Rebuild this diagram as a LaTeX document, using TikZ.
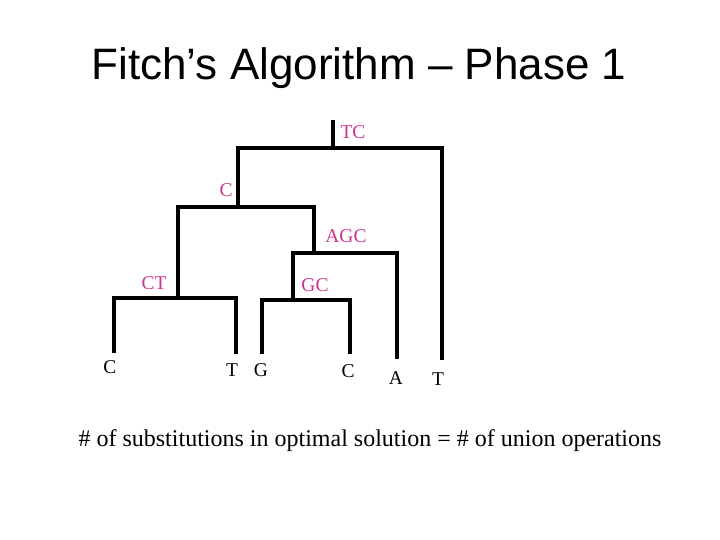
\documentclass[tikz,border=0pt]{standalone}
\usepackage{fontspec}
\setmainfont{Liberation Serif}
\newfontfamily\arial{Liberation Sans}
\definecolor{pinklab}{RGB}{204,51,140}
\begin{document}
\begin{tikzpicture}[x=1pt,y=-1pt,
  br/.style={line width=3.4pt,line cap=rect},
  lab/.style={text=pinklab,font=\fontsize{19.5}{19.5}\selectfont,inner sep=0pt},
  leaf/.style={font=\fontsize{19.5}{19.5}\selectfont,inner sep=0pt}]
\useasboundingbox (0,0) rectangle (720,540);
\node[font=\arial\fontsize{44}{44}\selectfont] (title) at (359,68) {Fitch’s Algorithm – Phase 1};
% internal points
\coordinate (r) at (333,122); \coordinate (r1) at (333,148);
\coordinate (ra) at (238,148); \coordinate (rb) at (442,148);
\coordinate (c1) at (238,207); \coordinate (ca) at (178,207); \coordinate (cb) at (314,207);
\coordinate (ct) at (178,298); \coordinate (cta) at (114,298); \coordinate (ctb) at (236,298);
\coordinate (ag) at (314,253); \coordinate (aga) at (293,253); \coordinate (agb) at (397,253);
\coordinate (gc) at (293,300); \coordinate (gca) at (262,300); \coordinate (gcb) at (350,300);
\coordinate (l1) at (114,351); \coordinate (l2) at (236,352); \coordinate (l3) at (262,352);
\coordinate (l4) at (350,352); \coordinate (l5) at (397,357); \coordinate (l6) at (442,358);
\draw[br] (r) -- (r1);
\draw[br] (c1) |- (ra) -- (rb) -- (l6);
\draw[br] (ct) |- (ca) -- (cb) -- (ag);
\draw[br] (l1) |- (cta) -- (ctb) -- (l2);
\draw[br] (gc) |- (aga) -- (agb) -- (l5);
\draw[br] (l3) |- (gca) -- (gcb) -- (l4);
\node[lab] (tc) at (353,132) {TC};
\node[lab] (cc) at (226,190) {C};
\node[lab] (agc) at (346,236) {AGC};
\node[lab] (ctl) at (154,283) {CT};
\node[lab] (gcl) at (315,285) {GC};
\node[leaf] (n1) at (110,367) {C};
\node[leaf] (n2) at (232,370) {T};
\node[leaf] (n3) at (261,370) {G};
\node[leaf] (n4) at (348,371) {C};
\node[leaf] (n5) at (396,378) {A};
\node[leaf] (n6) at (438,379) {T};
\node[font=\fontsize{24}{24}\selectfont] (bot) at (370,441) {\# of substitutions in optimal solution = \# of union operations};
\end{tikzpicture}
\end{document}
